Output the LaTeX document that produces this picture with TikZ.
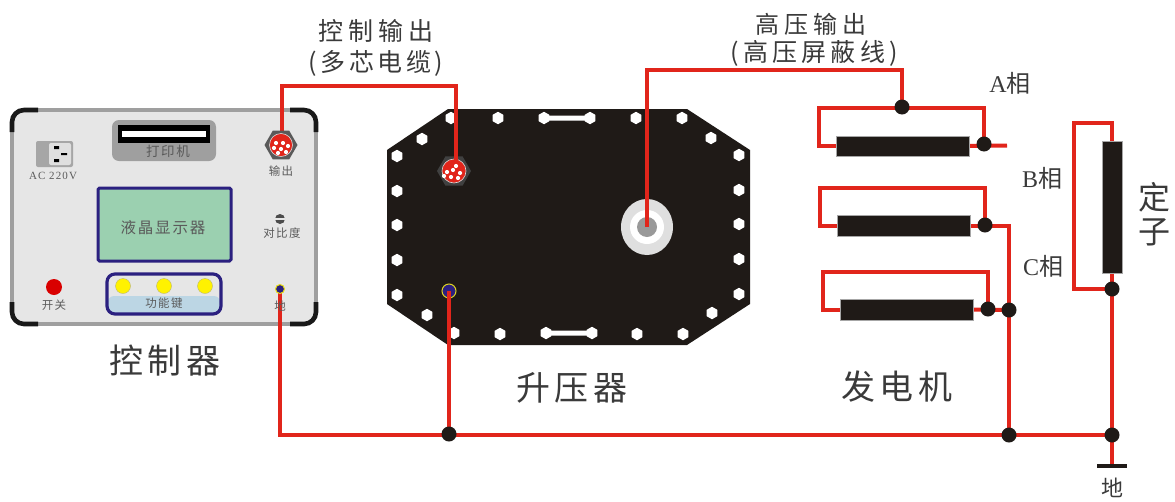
\documentclass[tikz,border=0pt]{standalone}
\usepackage{fontspec}
\setmainfont{Liberation Serif}
\newfontfamily\cjk{Noto Sans CJK SC}[LetterSpace=12]
\newfontfamily\cjkb{Noto Sans CJK SC}
\usetikzlibrary{shapes.geometric}
\definecolor{wirered}{HTML}{E1251B}
\definecolor{ink}{HTML}{1F1A17}
\definecolor{navy}{HTML}{2B2080}
\definecolor{panel}{HTML}{E6E6E6}
\definecolor{txt}{HTML}{3A3A3A}
\definecolor{ptxt}{HTML}{5A5A5A}
\definecolor{lcdfill}{HTML}{9BD0B0}
\definecolor{keyfill}{HTML}{BCD6E4}
\pgfdeclarelayer{under}\pgfdeclarelayer{wires}
\pgfsetlayers{under,wires,main}
\tikzset{
  x=1pt,y=-1pt,
  wire/.style={draw=wirered,line width=4pt,line join=miter},
  dotj/.style={circle,fill=ink,minimum size=15pt,inner sep=0},
  barb/.style={rectangle,fill=ink,draw=gray!70,line width=.4pt,inner sep=0},
  hole/.style={regular polygon,regular polygon sides=6,fill=white,inner sep=0,minimum size=12.5pt,rotate=30},
  pin/.style={circle,fill=white,inner sep=0,minimum size=4.2pt},
  plab/.style={text=ptxt,inner sep=0,font=\cjk\fontsize{11.5}{12}\selectfont},
  biglab/.style={text=txt,inner sep=0},
  title/.style={text=txt,inner sep=0,font=\fontsize{34}{36}\selectfont\cjkb\addfontfeature{LetterSpace=14}},
  phase/.style={text=txt,inner sep=0,font=\fontsize{24}{26}\selectfont},
  yel/.style={circle,fill=yellow,draw=gray!60!yellow,line width=.4pt,minimum size=15pt,inner sep=0},
  corner/.style={draw=black!90,line width=4.6pt,rounded corners=12pt},
}
\begin{document}
\begin{tikzpicture}
\useasboundingbox (0,0) rectangle (1175,501);
\begin{pgfonlayer}{under}
% controller panel
\draw[fill=panel,draw=gray!75,line width=3.6pt,rounded corners=12pt] (12,110) rectangle (316,324);
\draw[corner] (12,132) -- (12,110) -- (38,110);
\draw[corner] (290,110) -- (316,110) -- (316,132);
\draw[corner] (12,302) -- (12,324) -- (38,324);
\draw[corner] (290,324) -- (316,324) -- (316,302);
% printer
\fill[gray!75,rounded corners=7pt] (112,120) rectangle (216,161);
\fill[black] (118,125) rectangle (210,143);
\fill[white] (122,131) rectangle (206,137);
% socket
\fill[gray!70,rounded corners=2pt] (36,141) rectangle (73,167);
\fill[gray!25,rounded corners=2pt] (49,143) rectangle (71,165);
\fill[black] (54,146) rectangle (59,149) (54,159) rectangle (59,162) (61,153) rectangle (67,155);
% LCD
\draw[fill=lcdfill,draw=navy,line width=3pt,rounded corners=1.5pt] (98,188) rectangle (231,261);
% function keys
\fill[panel,rounded corners=8pt] (107,274) rectangle (221,314);
\fill[keyfill,rounded corners=6pt] (108,296) rectangle (220,313);
\draw[navy,line width=3.2pt,rounded corners=8pt] (107,274) rectangle (221,314);
% transformer body
\fill[ink] (387,150) -- (448,109) -- (687,109) -- (750,150) -- (750,304) -- (687,345) -- (448,345) -- (387,304) -- cycle;
\foreach \hx/\hy in {451/118,498/118,636/118,682/118,422/139,711/138,397/156,397/191,397/225,397/260,397/295,739/155,739/190,739/224,739/259,739/294,427/315,454/333,500/334,637/334,683/334,712/313,544/118,590/118,546/333,592/333}
  \node[hole] (h\hx-\hy) at (\hx,\hy) {};
\fill[white] (544,115.5) rectangle (590,120.5) (546,330.5) rectangle (592,335.5);
\end{pgfonlayer}
% controller fittings
\node[regular polygon,regular polygon sides=6,fill=black!65,inner sep=0,minimum size=33pt] (outhex) at (281,145) {};
\node[circle,fill=wirered,draw=white!70!gray,line width=.6pt,minimum size=23pt,inner sep=0] (outconn) at (281,145) {};
\foreach \px/\py in {276/143,283/143,288/146,274/148,281/149,286/152,278/153}
  \node[pin] at (\px,\py) {};
\coordinate (outend) at (282,138);
\node[circle,fill=red!85!black,minimum size=16pt,inner sep=0] (power) at (54,287) {};
\node[yel] (k1) at (123,286) {};
\node[yel] (k2) at (164,286) {};
\node[yel] (k3) at (205,286) {};
\node[circle,fill=navy,draw=yellow!90!black,line width=1pt,minimum size=9pt,inner sep=0] (gndc) at (280,289) {};
\node[circle,fill=black!70,minimum size=10pt,inner sep=0] (contrast) at (280,219) {};
\fill[panel] (275,218.3) rectangle (285,219.7);
% transformer fittings
\begin{pgfonlayer}{under}
\node[regular polygon,regular polygon sides=6,fill=black!75,inner sep=0,minimum size=34pt] (xhex) at (454,171) {};
\node[circle,fill=wirered,draw=white!70!gray,line width=.6pt,minimum size=24pt,inner sep=0] (xconn) at (454,171) {};
\node[ellipse,fill=gray!25,minimum width=52pt,minimum height=56pt,inner sep=0] (hvo) at (647,227) {};
\node[circle,fill=white,minimum size=34pt,inner sep=0] (hvm) at (647,227) {};
\node[circle,fill=gray!80,minimum size=20pt,inner sep=0] (hvi) at (647,227) {};
\node[circle,fill=navy,draw=yellow!85!black,line width=1pt,minimum size=14pt,inner sep=0] (xgnd) at (449,291) {};
\end{pgfonlayer}
\foreach \px/\py in {447/172,453/170,460/173,451/177,458/178,444/176,456/166}
  \node[pin] at (\px,\py) {};
% generator and stator bars
\node[barb,minimum width=133pt,minimum height=20pt] (barA) at (902.5,146) {};
\node[barb,minimum width=133pt,minimum height=21pt] (barB) at (903.5,225.5) {};
\node[barb,minimum width=133pt,minimum height=21pt] (barC) at (906.5,309.5) {};
\node[barb,minimum width=20pt,minimum height=132pt] (barS) at (1112,207) {};
% junctions
\node[dotj] (jhv) at (902,107) {};
\node[dotj] (ja) at (984,144) {};
\node[dotj] (jb) at (985,225) {};
\node[dotj] (jc) at (988,309) {};
\node[dotj] (jcb) at (1009,310) {};
\node[dotj] (js) at (1112,289) {};
\node[dotj] (mx) at (449,434) {};
\node[dotj] (mg) at (1009,435) {};
\node[dotj] (ms) at (1112,435) {};
\coordinate (ctlA) at (282,86);
\coordinate (ctlB) at (456,86);
\coordinate (ctlE) at (456,164);
\coordinate (hvA) at (647,70);
\coordinate (hvB) at (902,70);
\coordinate (tailA) at (1007,145.5);
\coordinate (gndB) at (280,435);
\coordinate (gndbar) at (1112,466);
\begin{pgfonlayer}{wires}
\draw[wire] (outend) -- (ctlA) -- (ctlB) -- (ctlE);
\draw[wire] (hvi.center) -- (hvA) -- (hvB) -- (jhv.center);
\draw[wire] (barA.west) -| (819,108) -- (984,108) -- (ja.center);
\draw[wire] (barA.east) -- (tailA);
\draw[wire] (barB.west) -| (820,188) -- (985,188) -- (jb.center);
\draw[wire] (barB.east) -- (1009,225.5) -- (mg.center);
\draw[wire] (barC.west) -| (823,272) -- (988,272) -- (jc.center);
\draw[wire] (barC.east) -- (jcb.center);
\draw[wire] (barS.north) -- (1112,123) -- (1074,123) -- (1074,289) -- (js.center);
\draw[wire] (barS.south) -- (js.center) -- (ms.center) -- (gndbar);
\draw[wire] (gndc.center) -- (gndB) -- (ms.center);
\draw[wire] (xgnd.center) -- (mx.center);
\end{pgfonlayer}
\node[rectangle,fill=ink,minimum width=30pt,minimum height=3.4pt,inner sep=0] (gbar) at (gndbar) {};
% texts
\node[text=ptxt,inner sep=0,font=\cjkb\fontsize{13.5}{14}\selectfont\addfontfeature{LetterSpace=12}] (tprint) at (168,151.5) {打印机};
\node[text=ptxt,inner sep=0,font=\fontsize{11}{12}\selectfont\addfontfeature{LetterSpace=10}] (tac) at (53,176) {AC 220V};
\node[plab] (tout) at (281,171) {输出};
\node[text=ptxt,inner sep=0,font=\cjk\fontsize{15.5}{16}\selectfont] (tlcd) at (163,228) {液晶显示器};
\node[plab] (tcon) at (282,233) {对比度};
\node[plab] (tfun) at (164,303) {功能键};
\node[plab] (tpow) at (54,305) {开关};
\node[plab] (tgnd) at (280,306) {地};
\node[title] (tc) at (165,361) {控制器};
\node[title] (tx) at (572,388) {升压器};
\node[title] (tg) at (897,387) {发电机};
\node[biglab,font=\cjkb\fontsize{25}{26}\selectfont\addfontfeature{LetterSpace=20}] (l1) at (376,31) {控制输出};
\node[biglab,font=\cjkb\fontsize{25}{26}\selectfont\addfontfeature{LetterSpace=14}] (l2) at (376,63) {(多芯电缆)};
\node[biglab,font=\cjkb\fontsize{24}{26}\selectfont\addfontfeature{LetterSpace=22}] (l3) at (811,24) {高压输出};
\node[biglab,font=\cjkb\fontsize{25}{26}\selectfont\addfontfeature{LetterSpace=17}] (l4) at (814,53) {(高压屏蔽线)};
\node[phase] (pa) at (1010,83) {A{\cjkb 相}};
\node[phase] (pb) at (1042,178) {B{\cjkb 相}};
\node[phase] (pc) at (1043,266) {C{\cjkb 相}};
\node[text=txt,inner sep=0,font=\fontsize{32}{34}\selectfont\cjkb] (ding) at (1154,197) {定};
\node[text=txt,inner sep=0,font=\fontsize{32}{34}\selectfont\cjkb] (zi) at (1154,232) {子};
\node[text=txt,inner sep=0,font=\fontsize{22}{24}\selectfont\cjkb] (tearth) at (1112,488) {地};
\end{tikzpicture}
\end{document}
